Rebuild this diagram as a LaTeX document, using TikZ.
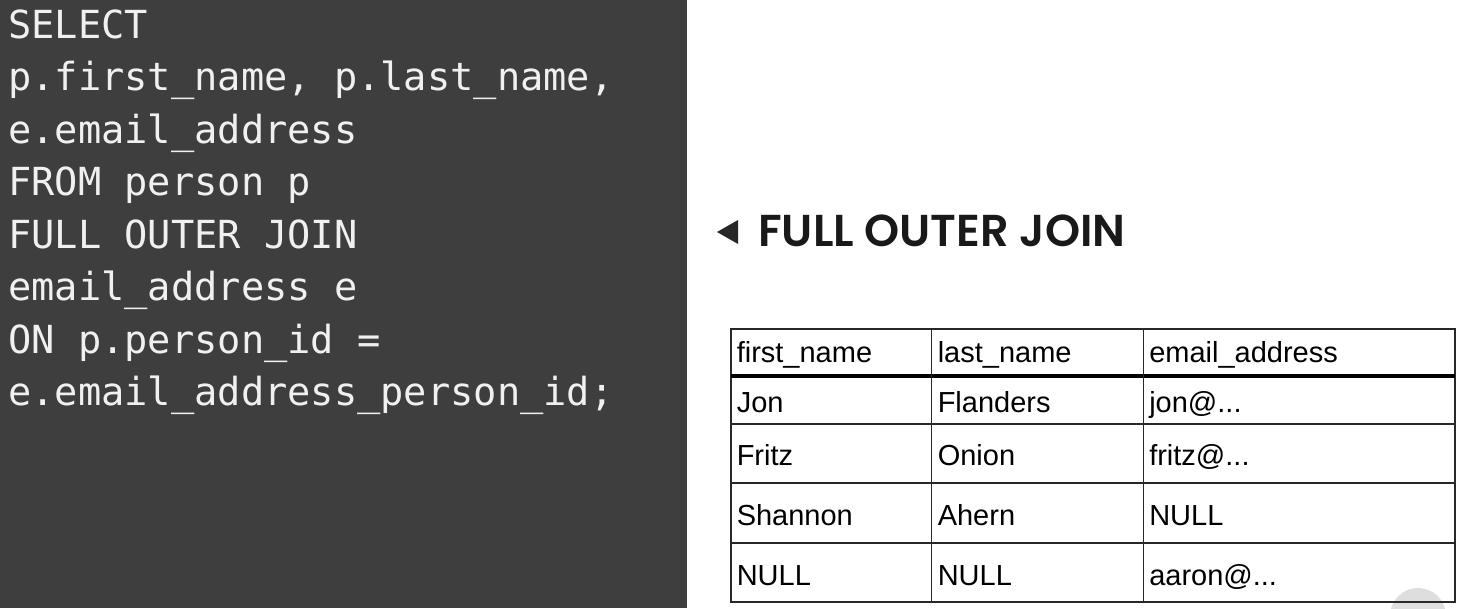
\documentclass[tikz,border=0pt]{standalone}
\usepackage{fontspec}
\usepackage{tikz}
\usepackage{xcolor}
\setmainfont{Liberation Sans}
\setmonofont{DejaVu Sans Mono}
\newfontfamily\titlefont{Poppins SemiBold}

\definecolor{panelgray}{RGB}{62,62,62}
\definecolor{codewhite}{RGB}{240,240,240}
\definecolor{gridgray}{RGB}{40,40,40}
\definecolor{markgray}{RGB}{222,222,222}

\begin{document}
\begin{tikzpicture}[x=0.75pt,y=0.75pt,yscale=-1,xscale=1]
  \useasboundingbox (0,0) rectangle (1460,608);
  
  %Shape: Rectangle [id:code_panel] 
  \fill [panelgray]  (0,0) -- (687,0) -- (687,608) -- (0,608) -- cycle ;
  
  % Text Node
  \draw (8,38) node (lnselect) [anchor=base west][inner sep=0pt] [color=codewhite,font=\ttfamily\fontsize{29}{39}\selectfont]  {SELECT};
  % Text Node
  \draw (8,90.5) node (lnfields) [anchor=base west][inner sep=0pt] [color=codewhite,font=\ttfamily\fontsize{29}{39}\selectfont]  {p.first\_name, p.last\_name,};
  % Text Node
  \draw (8,143) node (lnemail) [anchor=base west][inner sep=0pt] [color=codewhite,font=\ttfamily\fontsize{29}{39}\selectfont]  {e.email\_address};
  % Text Node
  \draw (8,195.5) node (lnfrom) [anchor=base west][inner sep=0pt] [color=codewhite,font=\ttfamily\fontsize{29}{39}\selectfont]  {FROM person p};
  % Text Node
  \draw (8,248) node (lnjoin) [anchor=base west][inner sep=0pt] [color=codewhite,font=\ttfamily\fontsize{29}{39}\selectfont]  {FULL OUTER JOIN};
  % Text Node
  \draw (8,300.5) node (lntable) [anchor=base west][inner sep=0pt] [color=codewhite,font=\ttfamily\fontsize{29}{39}\selectfont]  {email\_address e};
  % Text Node
  \draw (8,353) node (lnon) [anchor=base west][inner sep=0pt] [color=codewhite,font=\ttfamily\fontsize{29}{39}\selectfont]  {ON p.person\_id =};
  % Text Node
  \draw (8,405.5) node (lnid) [anchor=base west][inner sep=0pt] [color=codewhite,font=\ttfamily\fontsize{29}{39}\selectfont]  {e.email\_address\_person\_id;};
  
  %Shape: Triangle [id:title_marker] 
  \fill [gridgray]  (738,220) -- (738,244) -- (717,232) -- cycle ;
  % Text Node
  \draw (758,246) node (jointitle) [anchor=base west][inner sep=0pt] [font=\titlefont\fontsize{33.5}{40}\selectfont, color=black!90]  {FULL OUTER JOIN};
  
  %Shape: Circle [id:corner_mark] 
  \fill [markgray]  (1418,616) circle [radius=28] ;
  
  %Shape: Rectangle [id:result_table] 
  \draw [color=gridgray, line width=1.5]  (731,329) -- (1455,329) -- (1455,602) -- (731,602) -- cycle ;
  %Straight Lines [id:header_rule] 
  \draw [color=black, line width=3]  (731,376) -- (1455,376) ;
  %Straight Lines [id:row_rules] 
  \draw [color=gridgray, line width=1.2]  (731,424) -- (1455,424) ;
  \draw [color=gridgray, line width=1.2]  (731,483) -- (1455,483) ;
  \draw [color=gridgray, line width=1.2]  (731,543) -- (1455,543) ;
  %Straight Lines [id:col_rules] 
  \draw [color=gridgray, line width=1.2]  (931.5,329) -- (931.5,602) ;
  \draw [color=gridgray, line width=1.2]  (1143.5,329) -- (1143.5,602) ;
  
  % Text Node
  \draw (736.5,362) node (hdfirst) [anchor=base west][inner sep=0pt] [font=\fontsize{21.75}{26}\selectfont]  {first\_name};
  % Text Node
  \draw (937.5,362) node (hdlast) [anchor=base west][inner sep=0pt] [font=\fontsize{21.75}{26}\selectfont]  {last\_name};
  % Text Node
  \draw (1149,362) node (hdemail) [anchor=base west][inner sep=0pt] [font=\fontsize{21.75}{26}\selectfont]  {email\_address};
  % Text Node
  \draw (736.5,412) node (jonfirst) [anchor=base west][inner sep=0pt] [font=\fontsize{21.75}{26}\selectfont]  {Jon};
  % Text Node
  \draw (937.5,412) node (jonlast) [anchor=base west][inner sep=0pt] [font=\fontsize{21.75}{26}\selectfont]  {Flanders};
  % Text Node
  \draw (1149,412) node (jonemail) [anchor=base west][inner sep=0pt] [font=\fontsize{21.75}{26}\selectfont]  {jon@...};
  % Text Node
  \draw (736.5,465) node (fritzfirst) [anchor=base west][inner sep=0pt] [font=\fontsize{21.75}{26}\selectfont]  {Fritz};
  % Text Node
  \draw (937.5,465) node (fritzlast) [anchor=base west][inner sep=0pt] [font=\fontsize{21.75}{26}\selectfont]  {Onion};
  % Text Node
  \draw (1149,465) node (fritzemail) [anchor=base west][inner sep=0pt] [font=\fontsize{21.75}{26}\selectfont]  {fritz@...};
  % Text Node
  \draw (736.5,525) node (shanfirst) [anchor=base west][inner sep=0pt] [font=\fontsize{21.75}{26}\selectfont]  {Shannon};
  % Text Node
  \draw (937.5,525) node (shanlast) [anchor=base west][inner sep=0pt] [font=\fontsize{21.75}{26}\selectfont]  {Ahern};
  % Text Node
  \draw (1149,525) node (shanemail) [anchor=base west][inner sep=0pt] [font=\fontsize{21.75}{26}\selectfont]  {NULL};
  % Text Node
  \draw (736.5,585) node (nullfirst) [anchor=base west][inner sep=0pt] [font=\fontsize{21.75}{26}\selectfont]  {NULL};
  % Text Node
  \draw (937.5,585) node (nulllast) [anchor=base west][inner sep=0pt] [font=\fontsize{21.75}{26}\selectfont]  {NULL};
  % Text Node
  \draw (1149,585) node (nullemail) [anchor=base west][inner sep=0pt] [font=\fontsize{21.75}{26}\selectfont]  {aaron@...};
  
\end{tikzpicture}
\end{document}
